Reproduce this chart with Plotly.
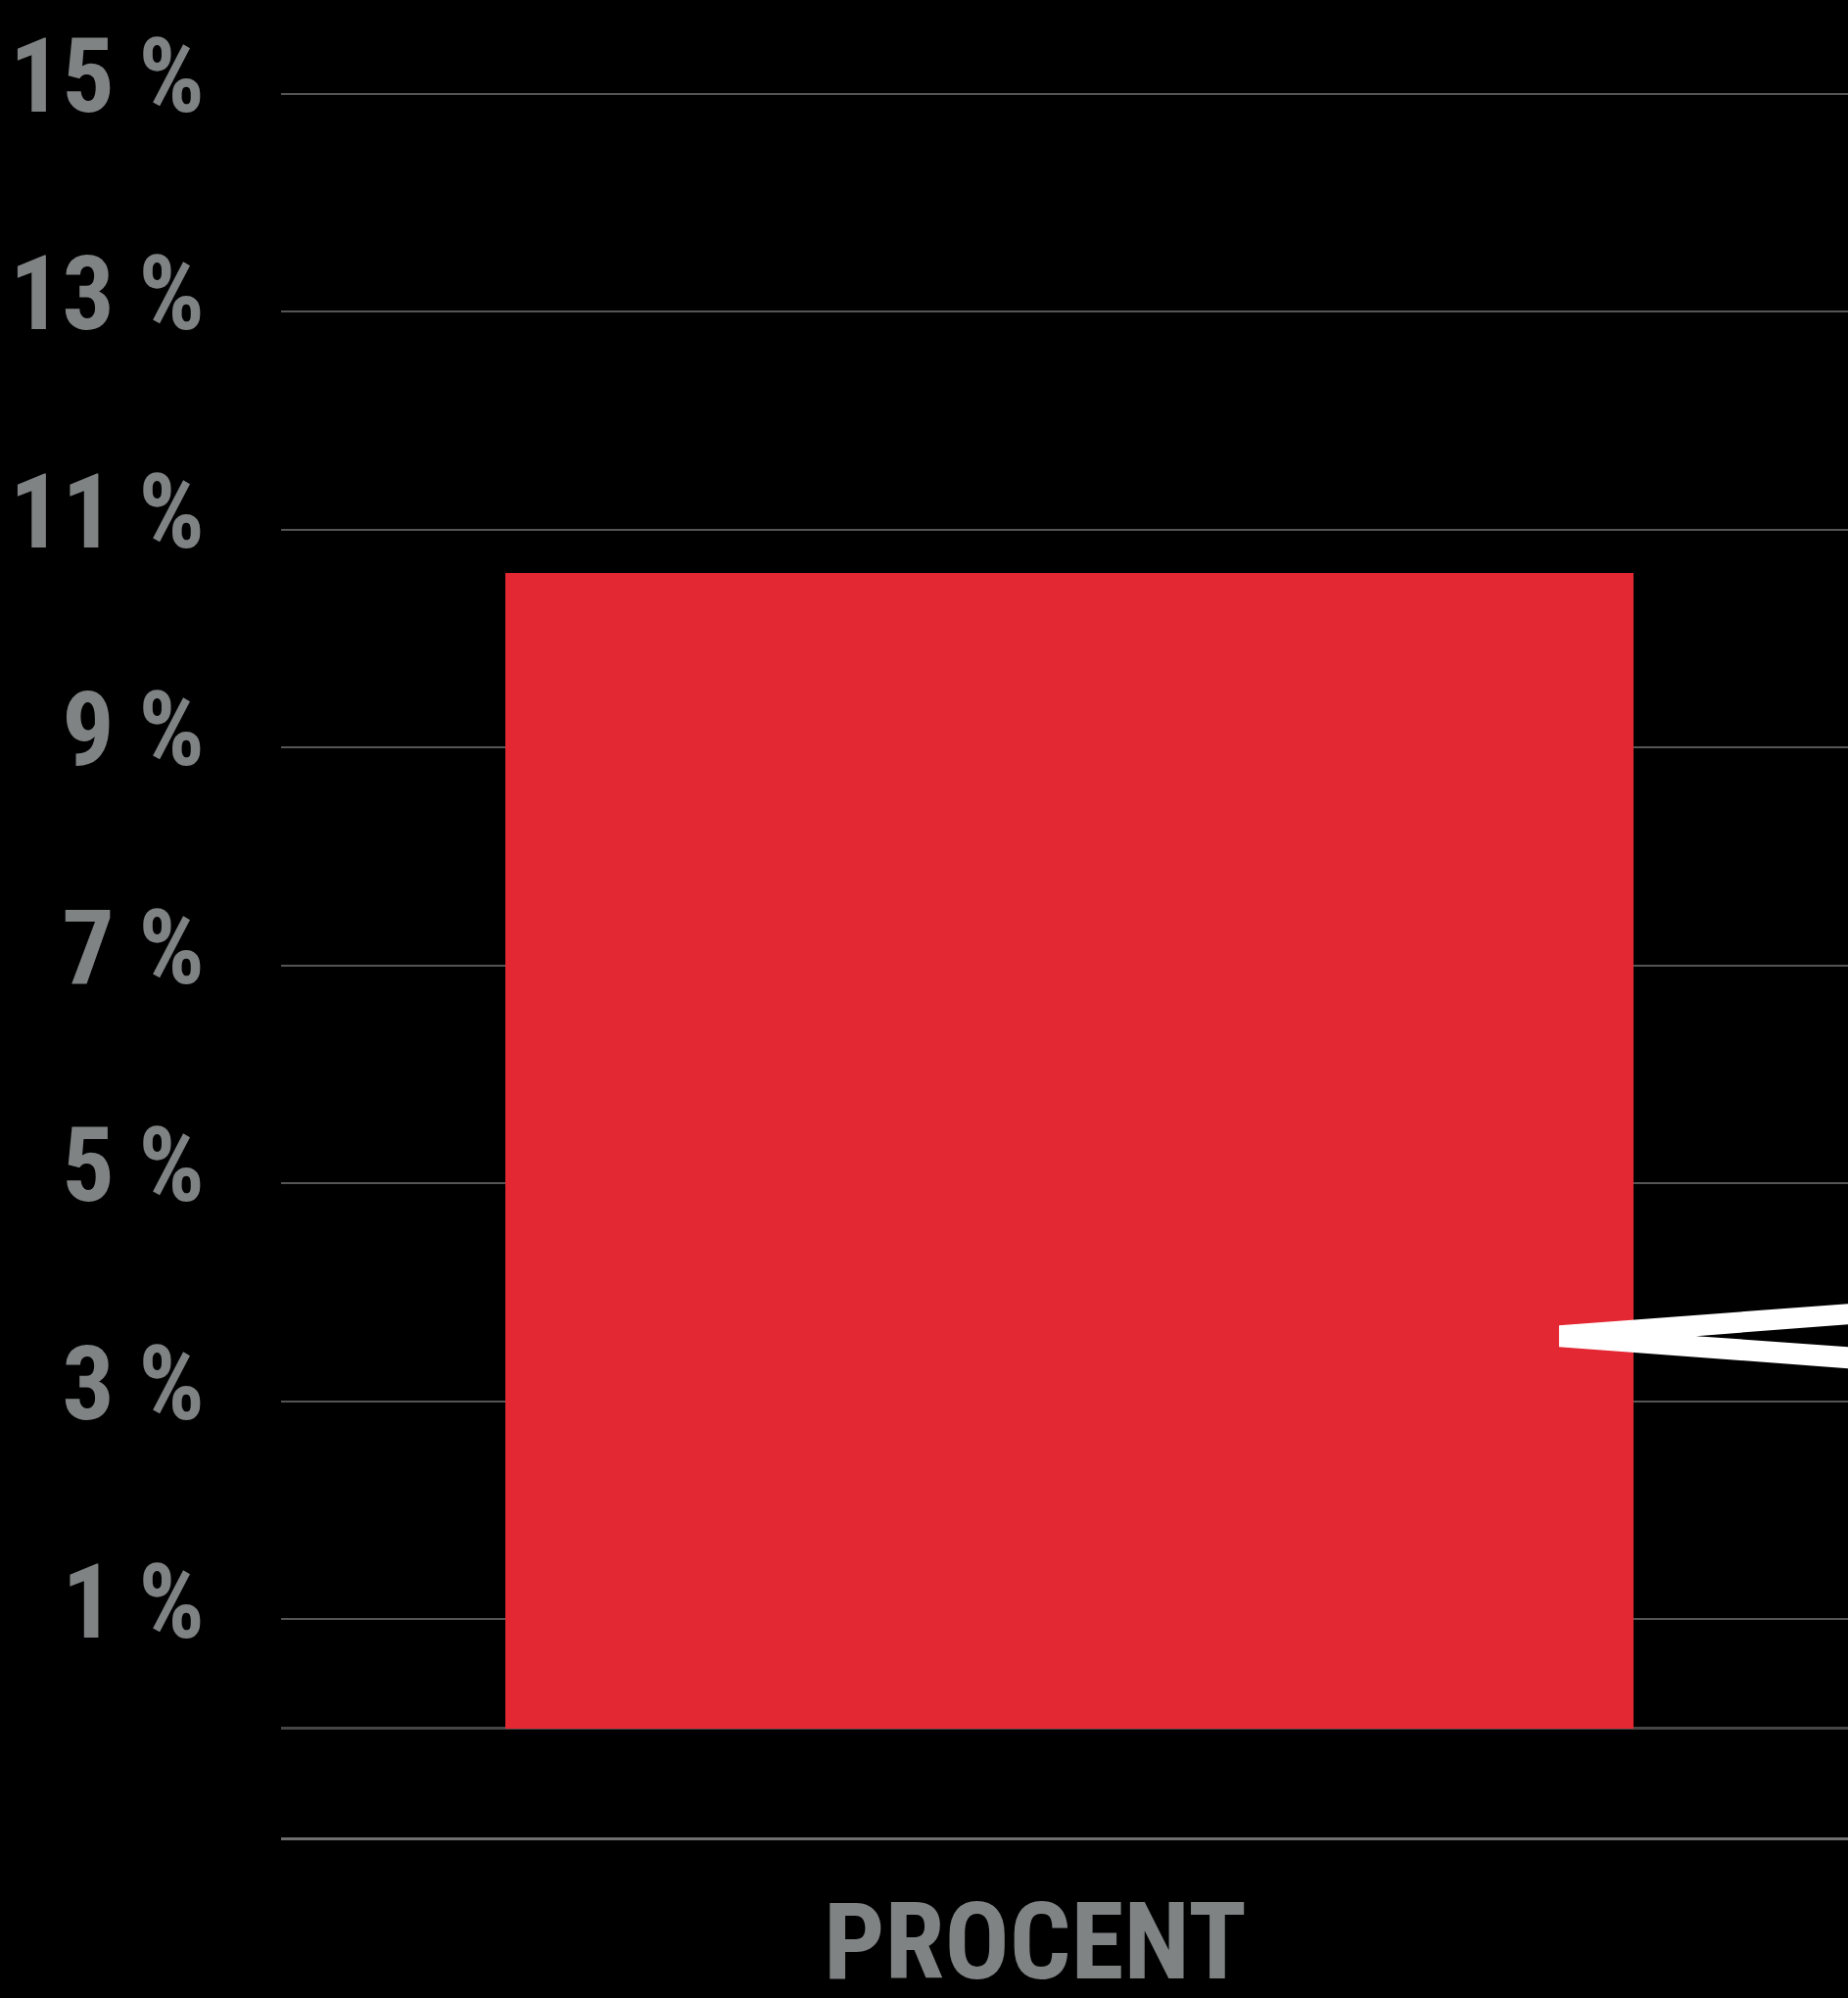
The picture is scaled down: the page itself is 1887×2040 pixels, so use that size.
import plotly.graph_objects as go

# ---- data ----
categories = ["PROCENT"]
values = [10.6]
tick_values = [1, 3, 5, 7, 9, 11, 13, 15]
tick_labels = ["1 %", "3 %", "5 %", "7 %", "9 %", "11 %", "13 %", "15 %"]
callout_value = 3.6  # where the white pointer aims

FONT = "Roboto Condensed, Open Sans Condensed, DejaVu Sans Condensed, sans-serif"
GREY = "#7f8383"

fig = go.Figure()
fig.add_trace(go.Bar(
    x=categories, y=values, width=0.7245,
    marker=dict(color="#e32833", line=dict(width=0)),
    hoverinfo="skip",
))

# white speech-bubble pointer (decoration), anchored on the callout value
tip_x, arm_x = 0.8156, 0.9031
c = callout_value
path = (f"M {tip_x} {c+0.099} L 1 {c+0.296} L 1 {c+0.108} L {arm_x} {c} "
        f"L 1 {c-0.099} L 1 {c-0.297} L {tip_x} {c-0.099} Z")
fig.add_shape(type="path", path=path, xref="paper", yref="y",
              fillcolor="white", line=dict(width=0), layer="above")

fig.update_layout(
    width=1887, height=2040,
    margin=dict(l=287, r=0, t=0, b=164),
    paper_bgcolor="black", plot_bgcolor="black",
    showlegend=False, bargap=0, hovermode=False,
    font=dict(family=FONT, color=GREY),
)
fig.update_yaxes(
    automargin=False,
    range=[-1, 15.86], tickmode="array", tickvals=tick_values, ticktext=tick_labels,
    showgrid=True, gridcolor="#555555", gridwidth=2,
    zeroline=True, zerolinecolor="#464646", zerolinewidth=3,
    ticks="", showline=False,
    tickfont=dict(family=FONT, size=106, color=GREY, weight="bold"),
    ticklabelstandoff=77, ticklabelshift=-19,
)
fig.update_xaxes(
    automargin=False,
    range=[-0.5063, 0.5], showgrid=False, zeroline=False,
    showline=True, linecolor="#6e6e6e", linewidth=3, ticks="",
    tickfont=dict(family=FONT, size=110, color=GREY, weight="bold"),
    ticklabelshift=-35, ticklabelstandoff=9,
)

fig.write_html(
    "out.html",
    config={"displayModeBar": False},
    post_script="document.body.style.margin='0';document.body.style.background='black';",
)
